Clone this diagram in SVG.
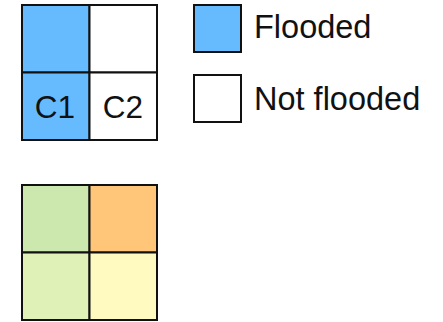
<svg xmlns="http://www.w3.org/2000/svg" width="443" height="322" viewBox="0 0 443 322">
<style>
.c{stroke:#111;stroke-width:2;}
.t{font-family:"Liberation Sans",Arial,sans-serif;font-size:31.5px;fill:#111;}
.l{font-size:32.5px;}
</style>
<rect width="443" height="322" fill="#fff"/>
<g id="top-grid">
<rect id="cell-tl" class="c" x="22" y="5" width="67.5" height="67.5" fill="#66bbff"/>
<rect id="cell-tr" class="c" x="89.5" y="5" width="67.5" height="67.5" fill="#fff"/>
<g id="C1"><rect class="c" x="22" y="72.5" width="67.5" height="67.5" fill="#66bbff"/><text class="t" x="55" y="118" text-anchor="middle">C1</text></g>
<g id="C2"><rect class="c" x="89.5" y="72.5" width="67.5" height="67.5" fill="#fff"/><text class="t" x="123" y="118" text-anchor="middle">C2</text></g>
</g>
<g id="bottom-grid">
<rect id="b-tl" class="c" x="22" y="185" width="67.5" height="67.5" fill="#cce8ae"/>
<rect id="b-tr" class="c" x="89.5" y="185" width="67.5" height="67.5" fill="#ffc67a"/>
<rect id="b-bl" class="c" x="22" y="252.5" width="67.5" height="67.5" fill="#dff1b6"/>
<rect id="b-br" class="c" x="89.5" y="252.5" width="67.5" height="67.5" fill="#fffbc0"/>
</g>
<g id="legend-flooded">
<rect class="c" x="194" y="5" width="47" height="47" fill="#66bbff"/>
<text class="t l" x="254" y="38">Flooded</text>
</g>
<g id="legend-not-flooded">
<rect class="c" x="194" y="75" width="47" height="47" fill="#fff"/>
<text class="t l" x="254" y="110">Not flooded</text>
</g>
<g id="connectors"/>
</svg>
